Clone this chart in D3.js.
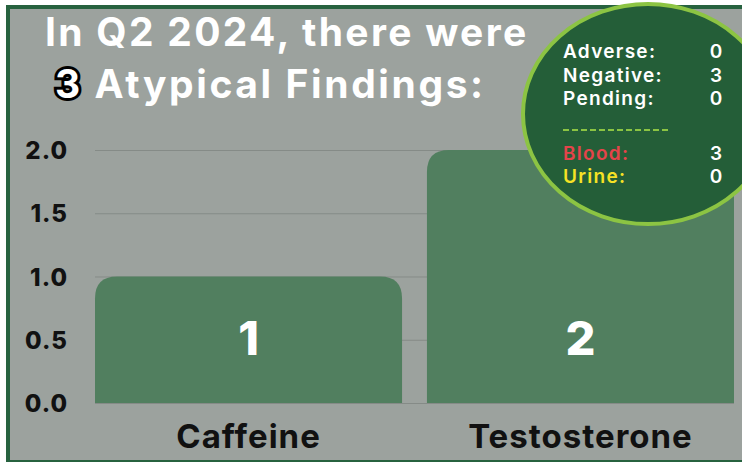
<!DOCTYPE html>
<html>
<head>
<meta charset="utf-8">
<script src="https://cdn.jsdelivr.net/npm/d3@7"></script>
<style>
  body { margin: 0; background: #ffffff; }
  svg { display: block; font-family: "Inter", "Open Sans", sans-serif; }
</style>
</head>
<body>
<script>
// chart values
var categories = ["Caffeine", "Testosterone"];
var counts = [1, 2];
var yTicks = [0, 0.5, 1, 1.5, 2];

// numbers for the summary bubble
var resultLabels = ["Adverse:", "Negative:", "Pending:"];
var resultValues = [0, 3, 0];
var sampleLabels = ["Blood:", "Urine:"];
var sampleValues = [3, 0];
var sampleColors = ["#e5444a", "#f6e225"];

var titleLine1 = "In Q2 2024, there were";
var totalFindings = 3;
var titleLine2 = " Atypical Findings:";

var W = 742, H = 462;

var svg = d3.select("body").append("svg")
    .attr("width", W)
    .attr("height", H);

// frame
svg.append("rect").attr("x", 6).attr("y", 5).attr("width", W - 6).attr("height", H - 5)
    .attr("fill", "#27623f");
svg.append("rect").attr("x", 10).attr("y", 9).attr("width", W - 10).attr("height", H - 11)
    .attr("fill", "#9ca29e");

// scales
var x = d3.scaleBand()
    .domain(categories)
    .range([95, 734])
    .paddingInner(0.075)
    .paddingOuter(0);

var y = d3.scaleLinear()
    .domain([0, 2])
    .range([403, 150]);

// gridlines
svg.append("g").selectAll("line")
    .data(yTicks)
    .enter().append("line")
    .attr("x1", 95).attr("x2", 734)
    .attr("y1", d => y(d) + 0.5).attr("y2", d => y(d) + 0.5)
    .attr("stroke", "#858b87")
    .attr("stroke-width", 1);

// y axis labels
var yAxis = d3.axisLeft(y).tickValues(yTicks).tickFormat(d3.format(".1f")).tickSize(0).tickPadding(0);
var gy = svg.append("g").attr("transform", "translate(68,0)").call(yAxis);
gy.select(".domain").remove();
gy.selectAll("text")
    .attr("fill", "#111")
    .attr("dy", "0.36em")
    .style("font-size", "24px")
    .style("font-weight", "800")
    .style("letter-spacing", "1px")
    .style("font-family", "Inter, sans-serif");

// bars with rounded tops
function barPath(x0, w, top, bottom, r) {
  r = Math.min(r, (bottom - top), w / 2);
  return "M" + x0 + "," + bottom +
    "V" + (top + r) +
    "Q" + x0 + "," + top + " " + (x0 + r) + "," + top +
    "H" + (x0 + w - r) +
    "Q" + (x0 + w) + "," + top + " " + (x0 + w) + "," + (top + r) +
    "V" + bottom + "Z";
}

svg.append("g").selectAll("path")
    .data(categories)
    .enter().append("path")
    .attr("d", (d, i) => barPath(x(d), x.bandwidth(), y(counts[i]), y(0), 22))
    .attr("fill", "#517f5f");

// value labels
svg.append("g").selectAll("text")
    .data(categories)
    .enter().append("text")
    .attr("x", d => x(d) + x.bandwidth() / 2)
    .attr("y", y(0) - 48)
    .attr("text-anchor", "middle")
    .attr("fill", "#ffffff")
    .style("font-size", "47px")
    .style("font-weight", "800")
    .text((d, i) => counts[i]);

// category labels
svg.append("g").selectAll("text")
    .data(categories)
    .enter().append("text")
    .attr("x", d => x(d) + x.bandwidth() / 2)
    .attr("y", 448)
    .attr("text-anchor", "middle")
    .attr("fill", "#111")
    .style("font-size", "33px")
    .style("font-weight", "700")
    .style("letter-spacing", "1px")
    .text(d => d);

// title
svg.append("text")
    .attr("x", 45).attr("y", 46)
    .attr("fill", "#ffffff")
    .style("font-size", "39px")
    .style("font-weight", "700")
    .style("letter-spacing", "2.3px")
    .text(titleLine1);

var t2 = svg.append("text")
    .attr("x", 55).attr("y", 98)
    .attr("fill", "#ffffff")
    .style("font-size", "39px")
    .style("font-weight", "700")
    .style("letter-spacing", "2.6px");
t2.append("tspan")
    .attr("fill", "#ffffff")
    .attr("stroke", "#000")
    .attr("stroke-width", 6)
    .attr("paint-order", "stroke")
    .text(totalFindings);
t2.append("tspan").text(titleLine2);

// summary bubble
var bub = svg.append("g");
bub.append("ellipse")
    .attr("cx", 648).attr("cy", 114)
    .attr("rx", 125).attr("ry", 110)
    .attr("fill", "#245e38")
    .attr("stroke", "#8cc443")
    .attr("stroke-width", 4);

var rowY = d3.scalePoint().domain(d3.range(3)).range([58, 105]);

bub.selectAll(".rl")
    .data(resultLabels)
    .enter().append("text")
    .attr("x", 563).attr("y", (d, i) => rowY(i))
    .attr("fill", "#fff")
    .style("font-size", "19px")
    .style("font-weight", "600")
    .style("letter-spacing", "1.3px")
    .text(d => d);

bub.selectAll(".rv")
    .data(resultValues)
    .enter().append("text")
    .attr("x", 716).attr("y", (d, i) => rowY(i))
    .attr("text-anchor", "middle")
    .attr("fill", "#fff")
    .style("font-size", "19px")
    .style("font-weight", "600")
    .text(d => d);

bub.append("line")
    .attr("x1", 563).attr("x2", 669)
    .attr("y1", 130).attr("y2", 130)
    .attr("stroke", "#8cc443")
    .attr("stroke-width", 2)
    .attr("stroke-dasharray", "6,3");

var sampY = d3.scalePoint().domain(d3.range(2)).range([160, 183]);

bub.selectAll(".sl")
    .data(sampleLabels)
    .enter().append("text")
    .attr("x", 563).attr("y", (d, i) => sampY(i))
    .attr("fill", (d, i) => sampleColors[i])
    .style("font-size", "19px")
    .style("font-weight", "600")
    .style("letter-spacing", "1.3px")
    .text(d => d);

bub.selectAll(".sv")
    .data(sampleValues)
    .enter().append("text")
    .attr("x", 716).attr("y", (d, i) => sampY(i))
    .attr("text-anchor", "middle")
    .attr("fill", "#fff")
    .style("font-size", "19px")
    .style("font-weight", "600")
    .text(d => d);
</script>
</body>
</html>
